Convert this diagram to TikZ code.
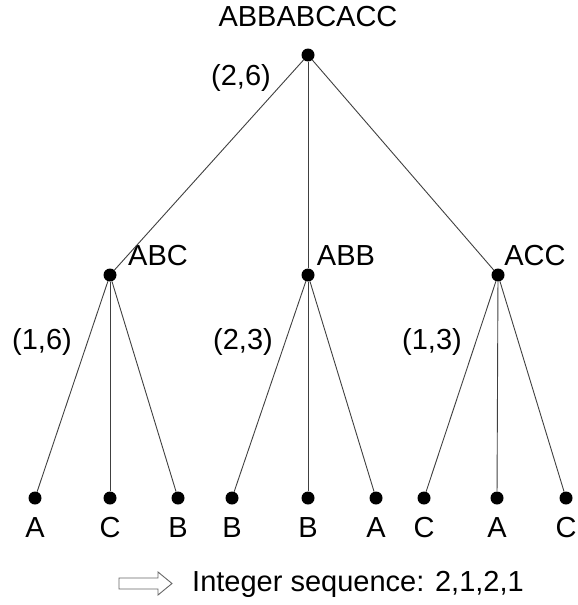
\documentclass[tikz,border=0pt]{standalone}
\usepackage{fontspec}
\setmainfont{Liberation Sans}
\begin{document}
\begin{tikzpicture}[x=1pt,y=-1pt,
        every node/.style={font=\fontsize{29}{32}\selectfont,inner sep=0pt},
        vtx/.style={circle,fill=black,minimum size=13pt},
        branch/.style={draw=black!75,line width=0.9pt}]
        \useasboundingbox (0,0) rectangle (578,605);
        % root
        \node[vtx] (r) at (308,55) {};
        \node (rl) at (308,17) {ABBABCACC};
        \node (w0) at (241,78) {(2,6)};
        % second level
        \node[vtx] (m1) at (110,275) {};
        \node[vtx] (m2) at (308,275) {};
        \node[vtx] (m3) at (498,275) {};
        \node (m1l) at (158,256) {ABC};
        \node (m2l) at (346,256) {ABB};
        \node (m3l) at (535,256) {ACC};
        \node (w1) at (42,342) {(1,6)};
        \node (w2) at (243,342) {(2,3)};
        \node (w3) at (432,342) {(1,3)};
        \foreach \m in {m1,m2,m3}
            \draw[branch] (r) -- (\m);
        % leaves
        \foreach \x/\t/\p [count=\i] in {35/A/m1,110/C/m1,178/B/m1,
                232/B/m2,308/B/m2,376/A/m2,
                424/C/m3,497/A/m3,566/C/m3} {
            \node[vtx] (l\i) at (\x,498) {};
            \node (t\i) at (\x,528) {\t};
            \draw[branch] (\p) -- (l\i);
        }
        % result
        \draw[black!60,line width=0.9pt] (119,578) -- (158,578) -- (158,572)
            -- (172,583.5) -- (158,595) -- (158,589) -- (119,589) -- cycle;
        \node[anchor=west] (seq) at (192,584) {Integer sequence: 2,1,2,1};
\end{tikzpicture}
\end{document}
